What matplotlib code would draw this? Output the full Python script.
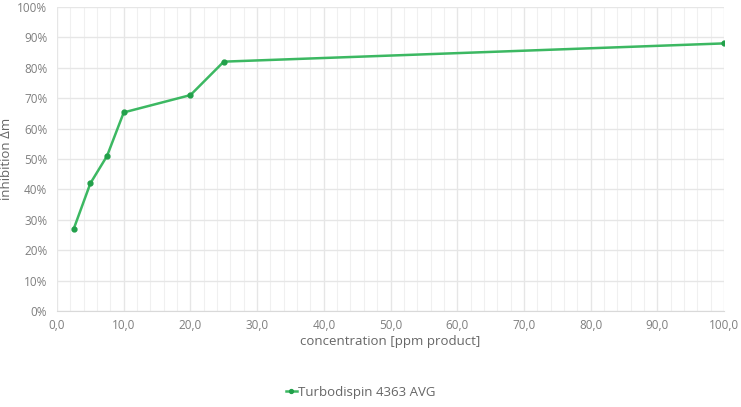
import matplotlib
matplotlib.use("Agg")
import matplotlib.pyplot as plt
from matplotlib.ticker import MultipleLocator, FuncFormatter

concentration = [2.5, 5.0, 7.5, 10.0, 20.0, 25.0, 100.0]
inhibition = [0.27, 0.42, 0.51, 0.653, 0.71, 0.82, 0.88]
series_name = "Turbodispin 4363 AVG"

plt.rcParams['font.family'] = ['Open Sans', 'DejaVu Sans']

fig = plt.figure(figsize=(7.41, 4.07), dpi=100)
ax = fig.add_axes([0.077, 0.236, 0.900, 0.747])

green = '#3cb862'
ax.plot(concentration, inhibition, color=green, lw=1.8, marker='o', ms=3.5,
        markerfacecolor='#22a04a', markeredgecolor='#22a04a', label=series_name, zorder=3)

ax.set_xlim(0, 100)
ax.set_ylim(0, 1.0)
ax.xaxis.set_major_locator(MultipleLocator(10))
ax.xaxis.set_minor_locator(MultipleLocator(2))
ax.yaxis.set_major_locator(MultipleLocator(0.1))
ax.xaxis.set_major_formatter(FuncFormatter(lambda v, p: f"{v:.1f}".replace('.', ',')))
ax.yaxis.set_major_formatter(FuncFormatter(lambda v, p: f"{v*100:.0f}%"))

ax.grid(which='major', color='#e6e6e6', lw=1.0)
ax.grid(which='minor', axis='x', color='#f0f0f0', lw=0.8)
ax.set_axisbelow(True)
for s in ['top', 'right', 'left']:
    ax.spines[s].set_visible(False)
ax.spines['bottom'].set_color('#d9d9d9')
ax.tick_params(axis='both', which='both', length=0, colors='#7f7f7f', labelsize=8.5)
ax.tick_params(axis='x', pad=6)
ax.tick_params(axis='y', pad=7)

ax.set_xlabel("concentration [ppm product]", color='#666666', fontsize=9.5, labelpad=2)
ax.set_ylabel("inhibition Δm", color='#666666', fontsize=9.5, labelpad=3)

leg = fig.legend(loc='center', bbox_to_anchor=(0.487, 0.036), frameon=False,
                 fontsize=9.5, handlelength=0.8, handletextpad=0.1, markerscale=0.8)
for t in leg.get_texts():
    t.set_color('#666666')

fig.savefig("out.png", dpi=100)
